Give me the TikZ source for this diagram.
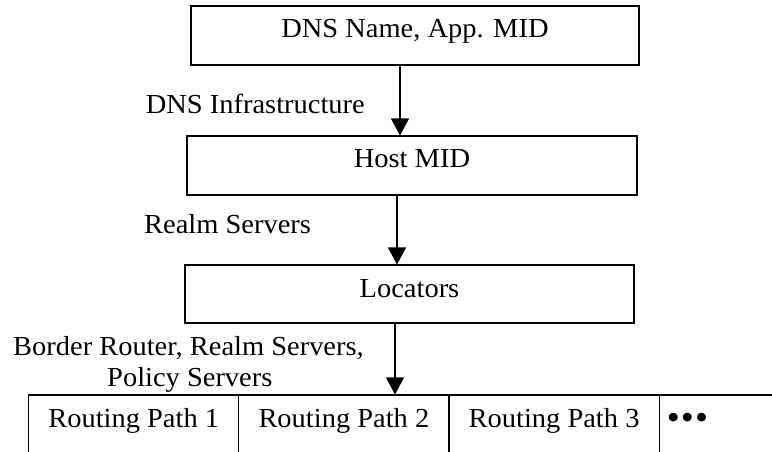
\documentclass[tikz,border=0pt]{standalone}
\usepackage{fontspec}
\setmainfont{Liberation Serif}[FakeStretch=1.035]
\usetikzlibrary{arrows.meta}
\begin{document}
\begin{tikzpicture}[x=1pt,y=-1pt,
  txt/.style={font=\fontsize{27.5}{31}\selectfont},
  box/.style={txt,draw,line width=1.1pt,inner sep=0pt},
  cell/.style={box,text height=32pt,text depth=32pt,minimum width=210.2pt},
  lbl/.style={txt,inner sep=0pt},
  arr/.style={line width=1.1pt,-{Triangle[width=18pt,length=17pt]}}]
\useasboundingbox (0,0) rectangle (772,451);
% boxes
\node[box,minimum width=448pt,text height=31.5pt,text depth=27.5pt] (b1) at (415,35.5) {DNS Name, App. MID};
\node[box,minimum width=450pt,text height=31pt,text depth=28pt] (b2) at (412,165.5) {Host MID};
\node[box,minimum width=449pt,text height=32pt,text depth=26pt] (b3) at (409.5,294) {Locators};
% bottom row
\node[cell] (c1) at (133.7,427) {Routing Path 1};
\node[cell] (c2) at (343.9,427) {Routing Path 2};
\node[cell] (c3) at (554.1,427) {Routing Path 3};
\node[box,anchor=west,text height=32pt,text depth=32pt,text width=134pt,inner xsep=7pt,align=left] (c4) at (659.2,427) {\raisebox{-2pt}{\fontsize{36}{36}\selectfont •\kern1.2pt•\kern1.2pt•}};
% arrows
\draw[arr] ([xshift=-15pt]b1.south) -- ([xshift=-12pt]b2.north);
\draw[arr] ([xshift=-15pt]b2.south) -- ([xshift=-12.5pt]b3.north);
\draw[arr] ([xshift=-14.5pt]b3.south) -- ([xshift=51.1pt]c2.north);
% labels
\node[lbl,anchor=base east] (l1) at (365,113) {DNS Infrastructure};
\node[lbl,anchor=base west] (l2) at (144,233) {Realm Servers};
\node[lbl,anchor=base west] (l3) at (13,355) {Border Router, Realm Servers,};
\node[lbl,anchor=base west] (l4) at (107,386) {Policy Servers};
\end{tikzpicture}
\end{document}
